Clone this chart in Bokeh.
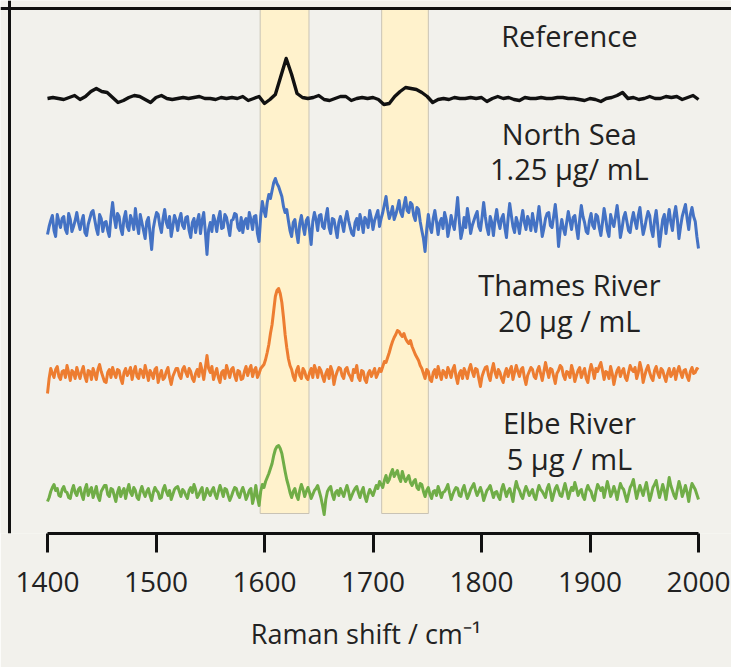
import numpy as np
from bokeh.plotting import figure
from bokeh.models import Range1d, Span, Label, FixedTicker
from bokeh.embed import file_html
from bokeh.resources import INLINE

# ---------------- data ----------------
series_names = ["Reference", "North Sea", "Thames River", "Elbe River"]
series_colors = ["#111111", "#4472c4", "#ed7d31", "#70ad47"]
series_offsets = [435, 309, 159, 40]

reference_vals = [
    0, 1, 0, -1, 1, 3, -1, 2, 7, 10,
    7, 6, 1, -4, -2, 1, 3, 2, -1, -4,
    1, 3, 0, -1, 0, 1, 0, 1, 2, 0,
    0, -1, 1, 0, 1, 0, 2, -2, 0, 2,
    -5, -1, 4, 22, 40, 24, 5, 1, 0, 1,
    3, -1, -2, 0, 2, 2, -2, 0, 1, 0,
    1, -1, -6, -5, 2, 7, 11, 10, 9, 6,
    2, -4, -1, 0, -1, 1, 0, 0, 1, 0,
    1, -3, 0, 2, 0, 1, -1, -2, 1, 0,
    0, 1, 0, 0, 1, 1, 0, 0, -1, -2,
    0, -1, -3, 0, 1, 3, 6, 0, 1, -1,
    0, 2, 0, 0, 2, 1, 2, -1, 1, 3,
    -1,
]

north_sea_vals = [
    -10, -2, 4, 9, -6, -12, 10, 3, -3, 6, 8, -5, -9, 11, 5, -7, -2, 4, 12, 2,
    -5, 3, 9, -8, -11, 0, 6, 12, 14, 5, -4, -10, 10, 6, -7, 2, 3, -6, -12, 8,
    22, 7, -3, 11, 8, -4, -10, 6, 13, -2, -6, 9, 4, -5, 16, 1, -9, 10, 2, -6,
    -14, 3, 7, -9, -25, -4, 5, 12, 10, -1, -8, 6, 15, 2, -3, 8, -12, -2, 9, 4,
    -6, 5, 11, -1, -4, 7, 8, -6, -13, 2, 6, -8, 3, 10, -9, 4, 12, -8, -30, -5,
    2, -7, 9, 3, -7, 6, 13, -4, -3, 10, 7, -2, -11, 4, 5, 11, 10, -3, -6, 7,
    -8, 3, 6, -4, 12, 5, -5, 8, 9, -9, -17, 8, 23, 14, 8, 22, 30, 26, 34, 42,
    46, 41, 38, 33, 28, 18, 12, 15, 4, -6, -12, 2, 5, -8, -18, 1, 9, -2, -10, 4,
    7, -6, -20, 3, 12, 5, -6, 9, 10, -2, -4, 7, 16, -3, -9, 6, 5, -4, -13, 2,
    8, 1, -7, 5, 13, 4, -3, -9, -11, 2, 6, -5, 10, 3, -8, 7, 4, -3, 14, 6,
    -5, 4, 9, 14, -2, 6, 12, 20, 28, 15, 6, 11, 18, 5, 10, 16, 24, 12, 8, 19,
    27, 14, 12, 22, 20, 9, 4, 17, 15, 3, -6, -14, -27, -5, 10, -2, -8, 6, 14, 3,
    -10, 2, 6, -4, 12, 5, -12, -3, 9, 1, -5, 10, 27, 4, -14, -6, 7, -3, 16, 5,
    -9, -1, 4, 9, 13, -2, -6, 7, 22, 8, -3, -10, 8, 2, -11, 5, 15, 3, -4, 6,
    10, -3, -13, 6, 21, 9, -2, -8, 7, 1, -9, 4, 14, 2, -5, 8, 3, -6, 11, 1,
    -7, 5, 18, 3, -12, -4, 6, 11, 12, -1, -3, 8, 20, 4, -22, -6, 5, -4, -10, 2,
    13, 4, -5, 7, 9, -3, -14, 5, 19, 8, 2, -7, -9, 4, 11, -1, -4, 10, 8, -3,
    -11, 2, 16, 6, -6, -12, 10, 3, -2, 8, 19, 5, -13, -4, 7, 12, 3, -6, -8, 4,
    12, 3, -4, 9, 17, 2, -10, -3, 6, 13, 9, -5, -12, 4, 14, -2, -22, -8, 5, 10,
    -9, 4, 15, 2, -6, 9, 18, 5, -14, -2, 8, 14, 20, 6, -5, 10, 17, 8, 3, -12,
    -24,
]

thames_vals = [
    -19, -4, 6, 1, -3, 5, 8, -2, -5, 3, 4, -3, 9, 2, -6, 4, 2, -4, 7, 1,
    -4, 3, 8, -2, -7, 4, 3, -5, 6, 1, -5, 5, 10, 3, -2, -7, -8, 2, 5, -3,
    7, 1, -3, 5, 4, -4, -9, 2, 6, -1, 2, 7, -5, 3, 8, -2, -4, 5, 3, -3,
    9, 2, -6, 4, 1, -4, 5, 7, -8, -1, 4, -5, -3, 3, 7, -3, -10, -2, 2, 6,
    6, -1, -4, 5, 8, 2, -2, 6, 3, -4, -7, 1, 5, -2, 11, 4, -5, 7, 19, 6,
    2, 8, -5, 1, 6, -3, -8, 2, 4, -4, 9, 3, -3, 5, 7, -1, -6, 4, 3, -5,
    -4, 3, 8, -1, 5, 9, -2, 4, 7, -3, 1, 6, 8, 10, 15, 22, 30, 41, 50, 64,
    78, 84, 86, 81, 72, 57, 40, 27, 16, 9, 5, -2, -6, 4, 8, -1, -4, 6, 3, -3,
    -5, 2, 6, -3, 9, 4, -3, 7, 4, -2, -7, 1, 5, -4, 8, 3, -10, -2, 3, 7,
    6, -1, -4, 5, 7, 1, -2, -6, 5, 2, 9, -3, -6, 4, 3, -5, -8, 1, 4, -2,
    2, 6, -3, 1, 6, 3, 8, 13, 12, 17, 22, 28, 33, 37, 40, 44, 43, 40, 38, 41,
    36, 33, 31, 34, 28, 24, 20, 17, 14, 9, 6, 1, -4, 5, 3, -5, -7, 2, 5, -3,
    8, 1, -5, 4, 2, -3, 7, 3, -3, 5, 9, -2, -9, 1, 4, -4, 6, 2, -4, 5,
    10, 3, -2, 6, 5, -4, -12, -2, 3, 7, 8, -1, -6, 4, 11, 2, -3, 5, 2, -4,
    -8, 1, 6, -2, 4, 8, -5, 2, 9, 3, -2, 5, 7, -3, -10, -1, 3, 7, 5, -2,
    -4, 4, 8, 1, -6, 3, 12, 4, -3, 6, 5, -2, -9, 1, 4, 9, 7, -1, -5, 3,
    2, -3, 9, 3, -7, -1, 4, 7, -3, 2, 6, -4, -8, 3, 10, 4, -4, 6, 3, 8,
    12, 4, -5, 3, 2, -4, 8, 1, -10, -2, 4, 7, -2, 3, 6, -3, -6, 2, 9, 5,
    3, 7, -4, 2, 12, 5, -8, -1, 5, 9, 2, -3, -6, 4, 8, 1, -3, 6, 4, -2,
    -7, 1, 6, -2, 1, 6, -5, 3, 8, 2, -3, 4, 5, -2, -6, 3, 7, 1, 2, 6,
    5,
]

elbe_vals = [
    -8, -4, 2, 6, 9, 3, 5, -2, -3, 4, 7, 2, 1, -4, -5, 3, 8, 1, -2, 4,
    6, -1, -6, 4, 9, -2, 3, 6, -4, 1, 7, -3, -7, 2, 5, 8, 8, -1, -3, 5,
    4, -2, -8, 1, 6, -3, 2, 5, -5, 3, 9, 1, -2, 6, 3, -4, -6, 2, 7, 1,
    -3, 2, 5, -2, -7, 1, 6, 3, 1, -5, -4, 4, 8, 2, -2, 3, -6, -1, 4, 6,
    7, 2, -3, 4, 2, -2, -5, 3, 6, 1, 9, 4, -4, -1, 3, 6, -6, -2, 5, 1,
    -2, 3, 6, -1, -5, 2, 8, 3, -3, 5, 4, -2, -7, -3, 2, 6, 5, -1, -4, 2,
    6, 1, -6, -2, 3, 5, -10, -3, 8, -4, -12, 2, 9, 6, 12, 16, 20, 25, 30, 38,
    44, 47, 48, 45, 40, 31, 22, 14, 8, 1, -4, 2, 5, -2, -6, 3, 9, 4, -3, 2,
    6, 1, -5, -1, 3, 5, 8, 2, -4, -12, -21, -6, 2, 5, 7, -1, -6, 1, 3, -2,
    5, 1, -3, 3, 8, 2, -6, -2, 2, 5, 7, 1, -4, 2, 6, -3, -8, -1, 4, 1,
    -2, 3, 8, 5, 12, 9, 6, 13, 18, 11, 14, 20, 24, 17, 20, 23, 16, 12, 22, 16,
    12, 15, 18, 11, 8, 12, 14, 6, 4, 10, 9, 2, -3, 3, 6, -1, -5, 2, 3, -2,
    7, 2, -4, 1, 2, 5, 9, 1, -6, -1, 3, 6, 5, -2, -3, 4, 8, 1, -5, -1,
    4, 7, 10, 3, -2, 2, 6, 1, -7, -2, 3, 5, 8, 2, -4, 1, 2, -3, -6, 4,
    9, 3, -3, 2, 5, -1, -8, 4, 12, 6, 3, -2, -5, 2, 7, 3, -2, 1, 4, -3,
    -6, 2, 8, 4, 2, -1, -4, 5, 9, 2, -7, -1, 5, 8, 3, -2, -3, 4, 10, 3,
    -5, 1, 6, 3, 11, 5, -2, 2, 4, -3, -6, 3, 8, 4, 2, -4, -7, 2, 9, 6,
    3, 6, -4, 4, 12, 5, -3, 1, 7, 2, -6, 3, 10, 6, 4, -2, -8, -1, 6, 9,
    14, 4, -5, 2, 8, 3, -2, 5, 11, 2, -7, -1, 6, 9, 13, 4, -4, 2, 9, 3,
    -6, 5, 16, 8, 3, -2, -5, 4, 12, 6, -3, 2, 8, 1, -8, 3, 10, 7, 4, -1,
    -6,
]

all_vals = [reference_vals, north_sea_vals, thames_vals, elbe_vals]

band_left = [1596, 1708]
band_right = [1641, 1751]

tick_values = [1400, 1500, 1600, 1700, 1800, 1900, 2000]
tick_labels = ["1400", "1500", "1600", "1700", "1800", "1900", "2000"]

label_texts = ["Reference", "North Sea", "1.25 µg/ mL", "Thames River",
               "20 µg / mL", "Elbe River", "5 µg / mL"]
label_y = [498, 400, 365, 249, 213, 111, 75]
label_x = 1881

# ---------------- figure ----------------
W, H = 731, 667
AXIS_Y = 533
BG = "#f2f1ec"
px_per_unit = (698 - 47) / 600.0
x0 = 1400 - 47 / px_per_unit
x1 = x0 + W / px_per_unit

p = figure(width=W, height=H, output_backend="svg", toolbar_location=None,
           x_range=Range1d(x0, x1), y_range=Range1d(0, AXIS_Y),
           y_axis_location=None,
           min_border_left=0, min_border_right=0, min_border_top=0,
           min_border_bottom=H - AXIS_Y,
           background_fill_color=BG, border_fill_color=BG,
           outline_line_color=None)
p.xgrid.visible = False
p.ygrid.visible = False

# highlight bands
p.quad(left=band_left, right=band_right, bottom=20, top=525,
       fill_color="#fff2cc", line_color="#c9c3b5", line_width=1)

# spectra
for vals, col, off in zip(all_vals, series_colors, series_offsets):
    xs = np.linspace(1400, 2000, len(vals))
    ys = np.array(vals, dtype=float) + off
    p.line(xs, ys, line_color=col, line_width=3.4 if col == "#111111" else 3.0,
           line_join="round")

# labels
for t, y in zip(label_texts, label_y):
    p.add_layout(Label(x=label_x, y=y, text=t, text_align="center",
                       text_baseline="middle", text_font="Open Sans",
                       text_font_size="29px", text_color="#222222"))

# frame border lines (top / left)
p.add_layout(Span(location=x0 + 9 / px_per_unit, dimension="height",
                  line_color="#111111", line_width=3))
p.add_layout(Span(location=AXIS_Y - 8, dimension="width",
                  line_color="#111111", line_width=3))

# x axis
ax = p.xaxis[0]
ax.bounds = (1400, 2000)
ax.ticker = FixedTicker(ticks=tick_values)
ax.major_label_overrides = {v: l for v, l in zip(tick_values, tick_labels)}
ax.axis_line_width = 3
ax.axis_line_color = "#111111"
ax.major_tick_line_width = 3
ax.major_tick_line_color = "#111111"
ax.major_tick_in = 0
ax.major_tick_out = 19
ax.minor_tick_line_color = None
ax.major_label_text_font = "Open Sans"
ax.major_label_text_font_size = "28px"
ax.major_label_text_color = "#222222"
ax.major_label_standoff = 19
ax.axis_label = "Raman shift / cm⁻¹"
ax.axis_label_text_font = "Open Sans"
ax.axis_label_text_font_size = "27px"
ax.axis_label_text_font_style = "normal"
ax.axis_label_text_color = "#222222"
ax.axis_label_standoff = 20

open("out.html", "w").write(file_html(p, INLINE))
